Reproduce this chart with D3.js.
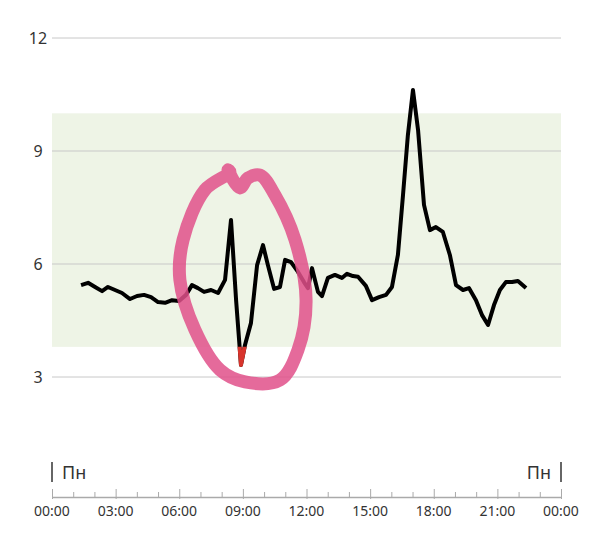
<!DOCTYPE html>
<html><head><meta charset="utf-8">
<script src="https://cdn.jsdelivr.net/npm/d3@7"></script>
<style>body{margin:0;background:#fff}text{font-family:"Noto Sans",sans-serif;fill:#333}</style>
</head><body><svg id="c" width="589" height="545"></svg>
<script>
// glucose readings: hour of day / value
var hours = [1.37,1.70,2.03,2.36,2.64,2.97,3.30,3.68,4.01,4.34,4.67,5.00,5.33,5.66,5.99,6.32,6.60,6.88,7.17,7.50,7.83,8.16,8.44,8.68,8.91,9.10,9.38,9.67,9.95,10.18,10.47,10.75,10.99,11.27,11.60,11.88,12.07,12.26,12.54,12.73,13.01,13.34,13.67,13.91,14.19,14.43,14.80,15.09,15.42,15.75,16.03,16.31,16.55,16.78,17.02,17.26,17.54,17.82,18.10,18.43,18.76,19.05,19.38,19.66,19.99,20.27,20.56,20.84,21.12,21.40,21.69,21.97,22.35];
var values = [5.44,5.50,5.39,5.28,5.39,5.31,5.23,5.07,5.15,5.18,5.12,4.99,4.97,5.04,5.02,5.18,5.44,5.36,5.26,5.31,5.23,5.58,7.17,5.04,3.32,3.85,4.43,5.97,6.50,5.97,5.34,5.39,6.11,6.05,5.79,5.52,5.36,5.89,5.26,5.15,5.63,5.71,5.63,5.74,5.68,5.66,5.42,5.04,5.12,5.18,5.39,6.24,7.83,9.42,10.62,9.56,7.57,6.90,6.98,6.85,6.24,5.44,5.31,5.36,5.04,4.65,4.38,4.91,5.31,5.52,5.52,5.55,5.36];
var yTicks = [3, 6, 9, 12];
var xTicks = [0, 3, 6, 9, 12, 15, 18, 21, 24];
var targetRange = [3.8, 10];
var dayLabel = "Пн";
// hand-drawn circle annotation (hour, value)
var circleH = [8.39,7.21,6.18,6.03,6.74,7.92,9.10,10.75,11.60,11.98,11.46,10.51,9.81,9.24,8.86,8.30];
var circleV = [8.44,7.97,6.64,5.58,4.25,3.19,2.87,2.92,3.72,5.04,6.64,7.83,8.36,8.28,8.02,8.50];

var svg = d3.select("#c");
var x = d3.scaleLinear().domain([0, 24]).range([52, 561]);
var y = d3.scaleLinear().domain([3, 12]).range([377, 38]);

svg.append("rect").attr("x", x(0)).attr("width", x(24) - x(0))
  .attr("y", y(targetRange[1])).attr("height", y(targetRange[0]) - y(targetRange[1]))
  .attr("fill", "#eef4e6");

svg.selectAll(".grid").data(yTicks).enter().append("line")
  .attr("x1", x(0)).attr("x2", x(24)).attr("y1", y).attr("y2", y)
  .attr("stroke", "#c8c8c8").attr("stroke-width", 1);
svg.selectAll(".yl").data(yTicks).enter().append("text")
  .attr("x", 38).attr("y", function(d){ return y(d) + 6; })
  .attr("text-anchor", "middle").attr("font-size", 16).text(function(d){ return d; });

var pts = hours.map(function(h, i){ return [h, values[i]]; });
var line = d3.line().x(function(d){ return x(d[0]); }).y(function(d){ return y(d[1]); });

svg.append("path").datum(pts).attr("d", line).attr("fill", "none")
  .attr("stroke", "#000").attr("stroke-width", 4).attr("stroke-linejoin", "round");

// low part in red
svg.append("clipPath").attr("id", "low").append("rect")
  .attr("x", 0).attr("width", 589).attr("y", y(targetRange[0])).attr("height", 200);
svg.append("path").datum(pts).attr("d", line).attr("fill", "none").attr("clip-path", "url(#low)")
  .attr("stroke", "#d8342c").attr("stroke-width", 4).attr("stroke-linejoin", "round");

var cpts = circleH.map(function(h, i){ return [h, circleV[i]]; });
svg.append("path").datum(cpts)
  .attr("d", d3.line().curve(d3.curveCatmullRomClosed).x(function(d){ return x(d[0]); }).y(function(d){ return y(d[1]); }))
  .attr("fill", "none").attr("stroke", "#e0508a").attr("stroke-opacity", 0.85).attr("stroke-width", 13);

// bottom axis
var axisY = 497;
var ax = svg.append("g").attr("transform", "translate(0," + axisY + ")")
  .call(d3.axisBottom(x).tickValues(d3.range(0, 25)).tickSize(0).tickFormat(""));
ax.select(".domain").attr("stroke", "#aaa").attr("stroke-width", 1.5);
ax.selectAll(".tick line").attr("stroke", "#aaa").attr("y1", function(d){ return d % 3 === 0 ? -8 : -5; }).attr("y2", function(d){ return d % 3 === 0 ? 2 : 1; });
svg.selectAll(".xl").data(xTicks).enter().append("text")
  .attr("x", x).attr("y", axisY + 19).attr("text-anchor", "middle").attr("font-size", 14)
  .text(function(d){ return d3.format("02")(d % 24 === 0 && d ? 0 : d) + ":00"; });

[[0, "start"], [24, "end"]].forEach(function(e){
  svg.append("line").attr("x1", x(e[0])).attr("x2", x(e[0])).attr("y1", 462).attr("y2", 482)
    .attr("stroke", "#333").attr("stroke-width", 1.5);
  svg.append("text").attr("x", x(e[0]) + (e[1] === "start" ? 10 : -10)).attr("y", 479)
    .attr("text-anchor", e[1]).attr("font-size", 18).text(dayLabel);
});
</script></body></html>
